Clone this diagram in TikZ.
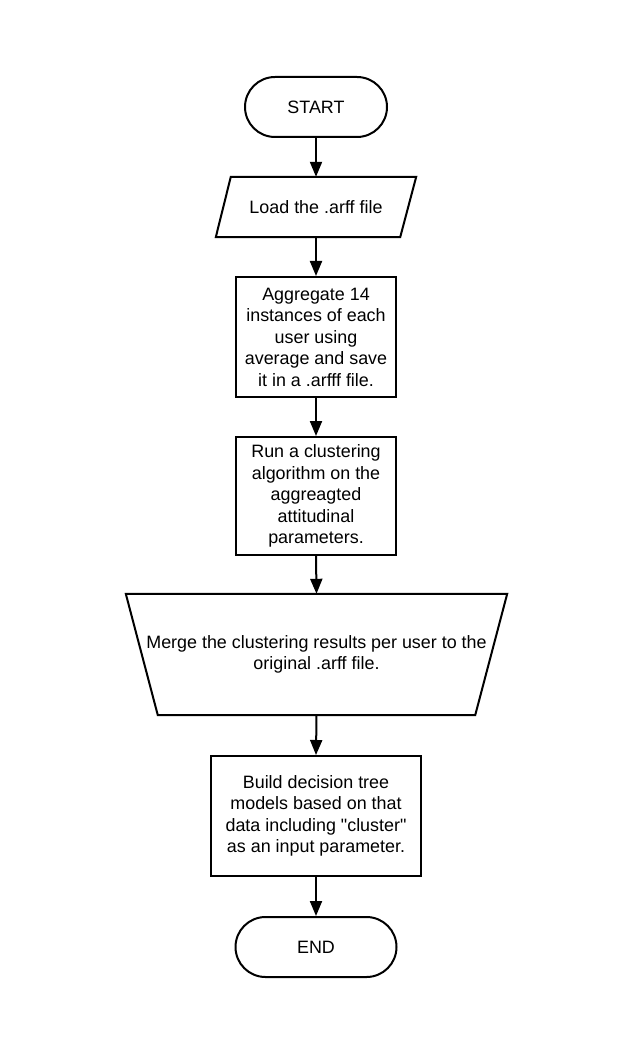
\documentclass[tikz,border=0pt]{standalone}
\usepackage{fontspec}
\setmainfont{Liberation Sans}[Ligatures=TeXOff]
\usetikzlibrary{arrows.meta}
\begin{document}
\begin{tikzpicture}[x=1pt,y=-1pt,
  every node/.style={font=\fontsize{17.9}{21.5}\selectfont, align=center, inner sep=0pt},
  boxshape/.style={draw, line width=2pt, rectangle},
  termshape/.style={draw, line width=2pt, rectangle, rounded corners=30pt},
  ghost/.style={rectangle},
  outline/.style={draw, line width=2pt, line join=miter},
  flow/.style={line width=2pt, -{Triangle[length=15pt,width=12pt]}}
]
\useasboundingbox (0,0) rectangle (625,1064);
\fill[white] (0,0) rectangle (625,1064);

\node[termshape, minimum width=142pt, minimum height=60pt] (start) at (316,107) {START};
\node[ghost, minimum width=200pt, minimum height=60pt] (load) at (316,207) {Load the .arff file};
\draw[outline] ([xshift=15pt]load.north west) -- (load.north east) -- ([xshift=-16pt]load.south east) -- (load.south west) -- cycle;
\node[boxshape, minimum width=160pt, minimum height=120pt] (agg) at (316,337)
  {Aggregate 14\\instances of each\\user using\\average and save\\it in a .arfff file.};
\node[boxshape, minimum width=160pt, minimum height=118pt] (run) at (316,496)
  {Run a clustering\\algorithm on the\\aggreagted\\attitudinal\\parameters.};
\node[ghost, minimum width=381pt, minimum height=121pt] (merge) at (316.5,654.5)
  {Merge the clustering results per user to the\\original .arff file.};
\draw[outline] (merge.north west) -- (merge.north east) -- ([xshift=-32pt]merge.south east) -- ([xshift=32pt]merge.south west) -- cycle;
\node[boxshape, minimum width=210pt, minimum height=120pt] (build) at (316,816)
  {Build decision tree\\models based on that\\data including "cluster"\\as an input parameter.};
\node[termshape, minimum width=161pt, minimum height=60pt] (end) at (316,947) {END};

\draw[flow] (start.south) -- (load.north);
\draw[flow] (load.south) -- (agg.north);
\draw[flow] (agg.south) -- (run.north);
\draw[flow] (run.south) -- (merge.north);
\draw[flow] (merge.south) -- (build.north);
\draw[flow] (build.south) -- (end.north);
\end{tikzpicture}
\end{document}
